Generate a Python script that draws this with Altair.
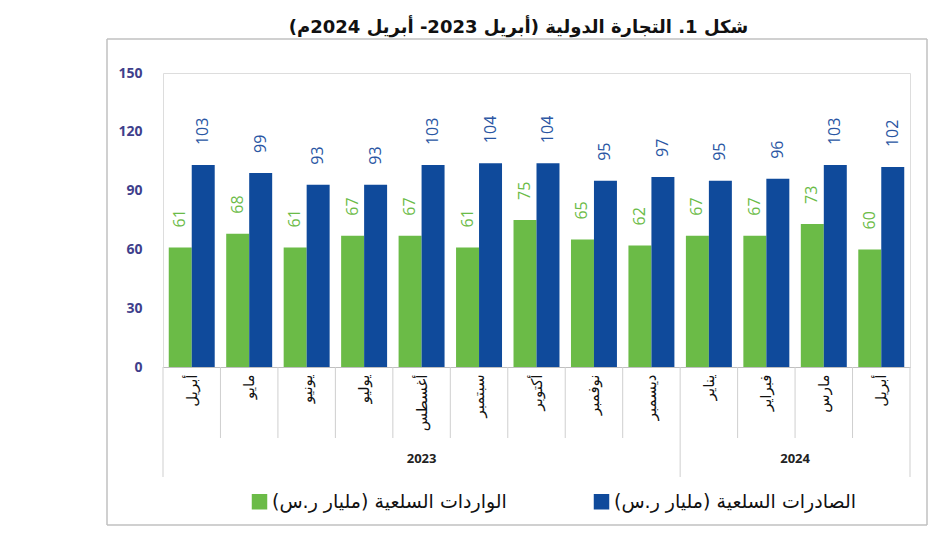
import altair as alt
import pandas as pd

RLM = "\u200f"

months = ["أبريل", "مايو", "يونيو", "يوليو", "أغسطس", "سبتمبر", "أكتوبر",
          "نوفمبر", "ديسمبر", "يناير", "فبراير", "مارس", "أبريل"]
years = ["2023"] * 9 + ["2024"] * 4
imports = [61, 68, 61, 67, 67, 61, 75, 65, 62, 67, 67, 73, 60]
exports = [103, 99, 93, 93, 103, 104, 104, 95, 97, 95, 96, 103, 102]

imp_name = "الواردات السلعية (مليار ر.س)" + RLM
exp_name = "الصادرات السلعية (مليار ر.س)" + RLM
title_text = "شكل 1. التجارة الدولية (أبريل 2023- أبريل 2024م)" + RLM

keys = [f"{m} {y}" for m, y in zip(months, years)]

rows = []
for k, a, b in zip(keys, imports, exports):
    rows.append({"key": k, "series": imp_name, "value": a})
    rows.append({"key": k, "series": exp_name, "value": b})
df = pd.DataFrame(rows)

series_order = [imp_name, exp_name]
bar_colors = ["#6bbb47", "#0f4a9b"]
text_colors = ["#6bbb47", "#2a56a3"]

xscale = alt.Scale(domain=keys, paddingInner=0, paddingOuter=0)
xaxis = alt.Axis(title=None, labelAngle=270, labelExpr="split(datum.value, ' ')[0]",
                 labelFont="DejaVu Sans", labelFontSize=15, labelColor="#111111",
                 labelPadding=7, ticks=False, domainColor="#bfbfbf", grid=False)
yscale = alt.Scale(domain=[0, 150], nice=False)
yaxis = alt.Axis(title=None, values=[0, 30, 60, 90, 120, 150], grid=False, domain=False,
                 ticks=False, labelPadding=21, labelFont="Open Sans", labelFontWeight="bold",
                 labelFontSize=14, labelColor="#3f3f8c")
xoff = alt.XOffset("series:N", sort=series_order,
                   scale=alt.Scale(paddingOuter=0.25, paddingInner=0))

base = alt.Chart(df)

bars = base.mark_bar().encode(
    x=alt.X("key:N", scale=xscale, axis=xaxis),
    xOffset=xoff,
    y=alt.Y("value:Q", scale=yscale, axis=yaxis),
    color=alt.Color("series:N", sort=series_order,
                    scale=alt.Scale(domain=series_order, range=bar_colors),
                    legend=alt.Legend(orient="none", legendX=87, legendY=419,
                                      direction="horizontal", title=None,
                                      symbolType="square", symbolSize=240,
                                      symbolStrokeWidth=0, labelFont="DejaVu Sans",
                                      labelFontSize=19, labelColor="#111111",
                                      labelLimit=600, columnPadding=85, labelOffset=3)),
)

labels = base.mark_text(angle=270, align="left", baseline="middle", dx=20,
                        font="Open Sans", fontSize=16).encode(
    x=alt.X("key:N", scale=xscale, axis=xaxis),
    xOffset=xoff,
    y=alt.Y("value:Q", scale=yscale, axis=yaxis),
    text=alt.Text("value:Q"),
    color=alt.Color("series:N", sort=series_order,
                    scale=alt.Scale(domain=series_order, range=text_colors),
                    legend=None),
)

year_df = pd.DataFrame({"key": [keys[4], keys[10]], "label": ["2023", "2024"]})
y2023 = alt.Chart(year_df.iloc[[0]]).mark_text(font="Open Sans", fontSize=13,
                                               fontWeight="bold", color="#222222").encode(
    x=alt.X("key:N", scale=xscale, axis=xaxis, bandPosition=0.5),
    y=alt.value(386), text="label:N")
y2024 = alt.Chart(year_df.iloc[[1]]).mark_text(font="Open Sans", fontSize=13,
                                               fontWeight="bold", color="#222222").encode(
    x=alt.X("key:N", scale=xscale, axis=xaxis, bandPosition=1),
    y=alt.value(386), text="label:N")

month_div_keys = [k for i, k in enumerate(keys) if i not in (0, 9)]
month_div = alt.Chart(pd.DataFrame({"key": month_div_keys})).mark_rule(
    color="#cfcfcf", strokeWidth=1).encode(
    x=alt.X("key:N", scale=xscale, axis=xaxis, bandPosition=0),
    y=alt.value(294), y2=alt.value(365))

sep_left = alt.Chart(pd.DataFrame({"key": [keys[0], keys[9]]})).mark_rule(
    color="#cfcfcf", strokeWidth=1).encode(
    x=alt.X("key:N", scale=xscale, axis=xaxis, bandPosition=0),
    y=alt.value(294), y2=alt.value(404))
sep_right = alt.Chart(pd.DataFrame({"key": [keys[12]]})).mark_rule(
    color="#cfcfcf", strokeWidth=1).encode(
    x=alt.X("key:N", scale=xscale, axis=xaxis, bandPosition=1),
    y=alt.value(294), y2=alt.value(404))

frame_df = pd.DataFrame({"a": [0]})
frame_h = alt.Chart(frame_df).mark_rule(color="#c0c0c0", strokeWidth=1.5).encode(
    x=alt.value(-56), x2=alt.value(764), y=alt.value(-34))
frame_b = alt.Chart(frame_df).mark_rule(color="#c0c0c0", strokeWidth=1.5).encode(
    x=alt.value(-56), x2=alt.value(764), y=alt.value(452))
frame_l = alt.Chart(frame_df).mark_rule(color="#c0c0c0", strokeWidth=1.5).encode(
    x=alt.value(-56), y=alt.value(-34), y2=alt.value(452))
frame_r = alt.Chart(frame_df).mark_rule(color="#c0c0c0", strokeWidth=1.5).encode(
    x=alt.value(764), y=alt.value(-34), y2=alt.value(452))

chart = alt.layer(frame_h, frame_b, frame_l, frame_r, month_div, sep_left, sep_right,
                  bars, labels, y2023, y2024).resolve_scale(
    color="independent"
).properties(
    width=747, height=294,
    autosize="none",
    padding={"left": 155, "top": 65, "right": 30, "bottom": 160},
    title=alt.Title(title_text, font="DejaVu Sans", fontSize=18, fontWeight="bold",
                    color="#111111", anchor="middle", dx=-18, offset=1),
).configure_view(stroke=None).configure(background="white")

chart.save("out.html", embed_options={"renderer": "svg", "actions": False})
